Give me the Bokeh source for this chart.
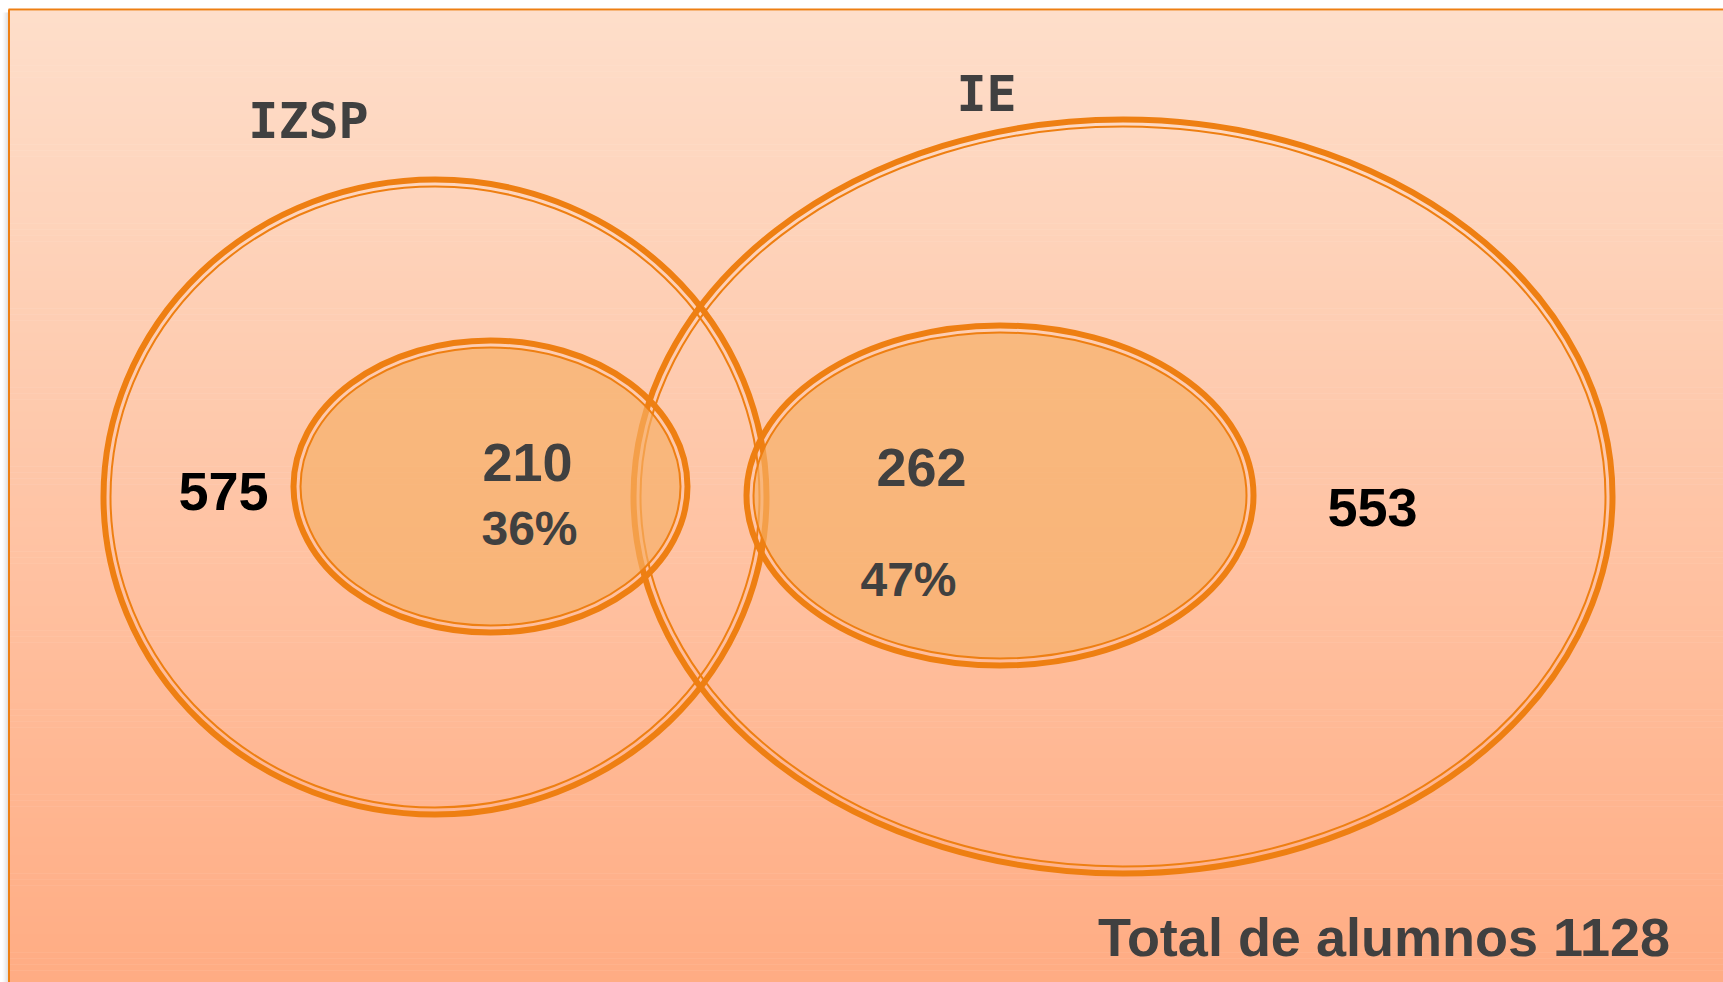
from bokeh.plotting import figure
from bokeh.models import Range1d
from bokeh.core.properties import value
from bokeh.embed import file_html
from bokeh.resources import INLINE

# ---------------- data ----------------
set_labels = ["IZSP", "IE"]
set_counts = [575, 553]
subset_counts = [210, 262]
subset_pcts = ["36%", "47%"]
total_label = "Total de alumnos"
total_students = 1128

# ---------------- layout ----------------
W, H = 1723, 982


def X(px):
    return px


def Y(py):
    return H - py


p = figure(width=W, height=H, output_backend="svg", toolbar_location=None,
           x_range=Range1d(0, W), y_range=Range1d(0, H), min_border=0)
p.axis.visible = False
p.grid.visible = False
p.outline_line_color = None
p.background_fill_color = "white"
p.border_fill_color = "white"

# panel area starts at page x=9, y=10
PX0, PY0 = 9, 10

# background vertical gradient (stripes)
top_c = (254, 222, 202)
bot_c = (255, 172, 131)
n = 160
ph = H - PY0
step = ph / n
lefts, rights, tops, bottoms, cols = [], [], [], [], []
for i in range(n):
    t = (i + 0.5) / n
    c = tuple(int(round(top_c[k] + (bot_c[k] - top_c[k]) * t)) for k in range(3))
    tops.append(Y(PY0 + i * step))
    bottoms.append(Y(PY0 + (i + 1) * step) - 0.5)
    lefts.append(X(PX0))
    rights.append(W)
    cols.append("#%02x%02x%02x" % c)
p.quad(left=lefts, right=rights, top=tops, bottom=bottoms, fill_color=cols,
       line_color=None)

# left shadow
shadow_cols = ["#fbfbfb", "#f5f5f5", "#eeeeee", "#e6e6e6", "#dddddd", "#d5d5d5"]
for i, c in enumerate(shadow_cols):
    p.quad(left=[X(2 + i)], right=[X(3 + i)], top=[Y(PY0 + 2)], bottom=[0],
           fill_color=c, line_color=None)

# frame border (top & left)
ORANGE = "#EE7F12"
p.line([X(8.5), X(8.5)], [Y(9), 0], line_color=ORANGE, line_width=2)
p.line([X(8), W], [Y(9), Y(9)], line_color=ORANGE, line_width=2)

# ellipse geometry (centre x, centre y, rx, ry) in page px
big = [(434.5, 496.5, 331.5, 317.5), (1122.5, 496.0, 489.5, 377.0)]
small = [(490.0, 486.0, 197.0, 146.0), (999.5, 495.0, 253.5, 170.0)]

INSET = 7


def double_ellipse(geom, fill=None):
    cx, cy, rx, ry = geom
    if fill is not None:
        p.ellipse(x=X(cx), y=Y(cy), width=2 * rx - 2 * INSET, height=2 * ry - 2 * INSET,
                  fill_color=fill, fill_alpha=0.67, line_color=None)
    p.ellipse(x=X(cx), y=Y(cy), width=2 * rx, height=2 * ry,
              fill_color=None, line_color=ORANGE, line_width=6)
    p.ellipse(x=X(cx), y=Y(cy), width=2 * rx - 2 * INSET, height=2 * ry - 2 * INSET,
              fill_color=None, line_color=ORANGE, line_width=2)


for g in big:
    double_ellipse(g)
for g in small:
    double_ellipse(g, fill="#F6AF66")

# ---------------- texts ----------------
DARK = "#404040"


def label(txt, cx, cy, size, color=DARK, font="Liberation Sans"):
    # the svg renderer places the given y near the cap centre for this setup
    p.text(x=[X(cx)], y=[Y(cy)], text=[txt], text_font=value(font),
           text_font_size="%dpx" % size, text_font_style="bold",
           text_color=color, text_align="center", text_baseline="alphabetic")


label(set_labels[0], 308, 120, 50, font="DejaVu Sans Mono")
label(set_labels[1], 986, 93, 50, font="DejaVu Sans Mono")

label(str(set_counts[0]), 223, 491, 54, color="black")
label(str(set_counts[1]), 1372, 506.5, 54, color="black")

label(str(subset_counts[0]), 527, 461.5, 54)
label(subset_pcts[0], 529, 527.5, 48)
label(str(subset_counts[1]), 921, 467, 54)
label(subset_pcts[1], 908, 579, 48)

label("%s %d" % (total_label, total_students), 1383.5, 936, 54)

open("out.html", "w").write(file_html(p, INLINE))
